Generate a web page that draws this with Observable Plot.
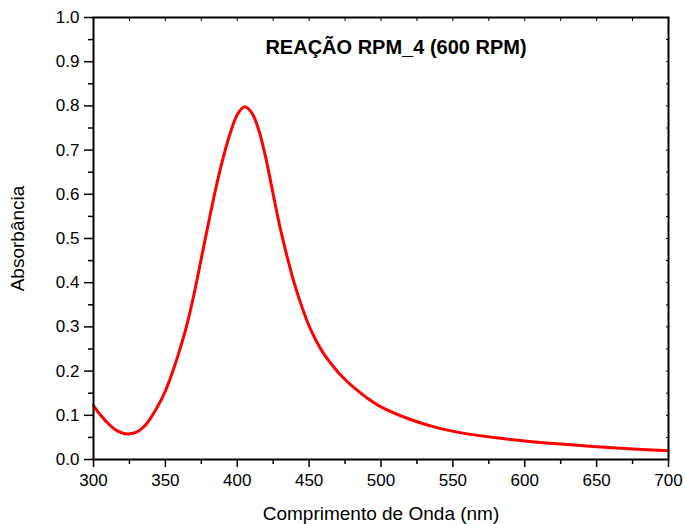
<!DOCTYPE html>
<html>
<head>
<meta charset="utf-8">
<script src="https://cdn.jsdelivr.net/npm/d3@7"></script>
<script src="https://cdn.jsdelivr.net/npm/@observablehq/plot@0.6"></script>
<style>
  html, body { margin: 0; padding: 0; background: #fff; }
  svg { display: block; }
</style>
</head>
<body>
<div id="chart"></div>
<script>
const wavelength = [300,305,310,315,320,325,330,335,340,345,350,355,360,365,370,375,380,385,390,395,400,405,410,415,420,425,430,435,440,445,450,455,460,465,470,475,480,490,500,520,540,560,580,600,625,650,675,700];
const absorbance = [0.122,0.100,0.082,0.068,0.060,0.058,0.062,0.074,0.095,0.122,0.155,0.198,0.248,0.305,0.375,0.455,0.535,0.612,0.680,0.737,0.780,0.798,0.785,0.745,0.680,0.600,0.522,0.455,0.395,0.345,0.302,0.268,0.240,0.218,0.198,0.181,0.166,0.140,0.119,0.091,0.071,0.058,0.049,0.042,0.035,0.029,0.024,0.020];
const xMajor = [300,350,400,450,500,550,600,650,700];
const xMinor = [325,375,425,475,525,575,625,675];
const yMajor = [0,0.1,0.2,0.3,0.4,0.5,0.6,0.7,0.8,0.9,1.0];
const yMinor = [0.05,0.15,0.25,0.35,0.45,0.55,0.65,0.75,0.85,0.95];
const title = "REAÇÃO RPM_4 (600 RPM)";
const xLabel = "Comprimento de Onda (nm)";
const yLabel = "Absorbância";

const data = wavelength.map((w, i) => ({w, a: absorbance[i]}));

const chart = Plot.plot({
  width: 685,
  height: 524,
  marginLeft: 93,
  marginRight: 17,
  marginTop: 17,
  marginBottom: 65,
  style: {fontFamily: "'Liberation Sans', Arial, sans-serif", fontSize: "17px", color: "#000", background: "#fff"},
  x: {domain: [300, 700]},
  y: {domain: [0, 1]},
  marks: [
    Plot.line(data, {x: "w", y: "a", stroke: "#ff0000", strokeWidth: 3, curve: "catmull-rom"}),
    Plot.axisX({ticks: xMajor, tickSize: 8, tickPadding: 6, tickFormat: d => String(d), label: null, strokeWidth: 1.5, fontSize: 17}),
    Plot.axisX({ticks: xMinor, tickSize: 5, text: null, label: null, strokeWidth: 1.5}),
    Plot.axisY({ticks: yMajor, tickSize: 9, tickPadding: 5, tickFormat: d3.format(".1f"), label: null, strokeWidth: 1.5, fontSize: 17}),
    Plot.axisY({ticks: yMinor, tickSize: 5, text: null, label: null, strokeWidth: 1.5}),
    Plot.axisX({anchor: "top", ticks: xMajor.concat(xMinor), tickSize: -3, text: null, label: null, strokeWidth: 1}),
    Plot.axisY({anchor: "right", ticks: yMajor.concat(yMinor), tickSize: -3, text: null, label: null, strokeWidth: 1}),
    Plot.frame({stroke: "#000", strokeWidth: 2}),
    Plot.text([title], {frameAnchor: "top", lineAnchor: "middle", dx: 15, dy: 30, fontWeight: "bold", fontSize: 20, fill: "#000"}),
    Plot.text([xLabel], {frameAnchor: "bottom", lineAnchor: "middle", dy: 54, fontSize: 19, fill: "#000"}),
    Plot.text([yLabel], {frameAnchor: "left", textAnchor: "middle", lineAnchor: "middle", dx: -76, rotate: -90, fontSize: 19, fill: "#000"})
  ]
});
document.getElementById("chart").appendChild(chart);
</script>
</body>
</html>
